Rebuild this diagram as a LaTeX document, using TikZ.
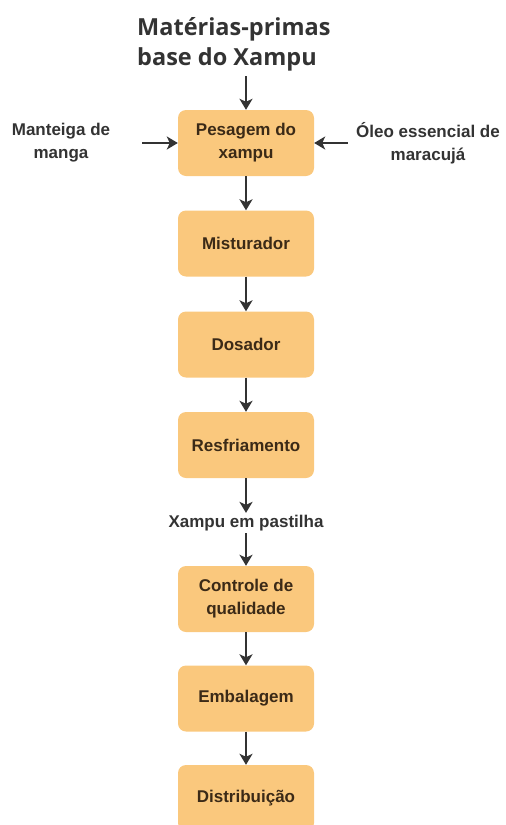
\documentclass[tikz,border=0pt]{standalone}
\usepackage{fontspec}
\setmainfont{Liberation Sans}
\newfontfamily\headfont{Open Sans}
\usetikzlibrary{arrows.meta}
\definecolor{boxfill}{RGB}{250,200,125}
\definecolor{boxtext}{RGB}{59,42,23}
\definecolor{ink}{RGB}{51,51,51}
\tikzset{
  stepbox/.style={draw=none, fill=boxfill, rounded corners=8pt, minimum width=136pt,
    minimum height=66pt, align=center, text=boxtext,
    font=\fontsize{17}{23}\selectfont\bfseries},
  sidelabel/.style={align=center, text=ink, inner sep=2pt,
    font=\fontsize{17}{23}\selectfont\bfseries},
  flow/.style={draw=ink, line width=2pt,
    -{Stealth[length=11pt,width=13pt,inset=3pt]}},
}
\begin{document}
\begin{tikzpicture}[x=1pt,y=-1pt]
  \useasboundingbox (0,0) rectangle (506,825);

  % heading
  \node[anchor=north west, inner sep=0pt, align=left, text=ink,
        font=\headfont\fontsize{23.5}{30}\selectfont\bfseries]
        (title) at (137,17) {Matérias-primas\\base do Xampu};

  % process steps
  \node[stepbox] (b1) at (246,143)   {Pesagem do\\xampu};
  \node[stepbox] (b2) at (246,243.5) {Misturador};
  \node[stepbox] (b3) at (246,344.5) {Dosador};
  \node[stepbox] (b4) at (246,445)   {Resfriamento};
  \node[stepbox] (b5) at (246,599)   {Controle de\\qualidade};
  \node[stepbox] (b6) at (246,698.5) {Embalagem};
  \node[stepbox] (b7) at (246,798)   {Distribuição};

  % side inputs and intermediate product
  \node[sidelabel] (mango) at (61,143)  {Manteiga de\\manga};
  \node[sidelabel] (oil)   at (428,143) {Óleo essencial de\\maracujá};
  \node[sidelabel] (tab)   at (246,523) {Xampu em pastilha};

  % connectors
  \draw[flow] ([yshift=-5pt]title.south -| b1.north) -- (b1.north);
  \draw[flow, shorten <=30pt] (mango.east) -- (b1.west);
  \draw[flow, shorten <=6pt] (oil.west) -- (b1.east);
  \draw[flow] (b1) -- (b2);
  \draw[flow] (b2) -- (b3);
  \draw[flow] (b3) -- (b4);
  \draw[flow] (b4.south) -- (tab.north);
  \draw[flow] (tab.south) -- (b5.north);
  \draw[flow] (b5) -- (b6);
  \draw[flow] (b6) -- (b7);
\end{tikzpicture}
\end{document}
